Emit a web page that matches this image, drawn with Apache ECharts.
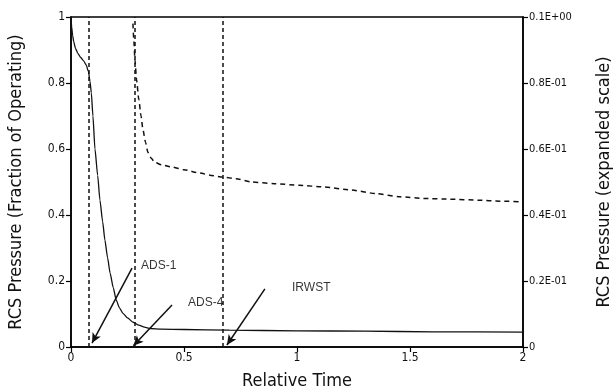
<!DOCTYPE html>
<html><head><meta charset="utf-8">
<script src="https://cdn.jsdelivr.net/npm/echarts@6/dist/echarts.min.js"></script>
<style>html,body{margin:0;padding:0;background:#fff}#c{width:614px;height:392px}</style>
</head><body><div id="c"></div>
<script>
// Solid curve: RCS pressure (fraction of operating), left axis
var solidT = [0, 0.003, 0.007, 0.012, 0.02, 0.03, 0.042, 0.055, 0.067, 0.077, 0.084, 0.09, 0.097, 0.106, 0.118, 0.128, 0.14, 0.15, 0.162, 0.173, 0.187, 0.2, 0.215, 0.23, 0.25, 0.275, 0.3, 0.325, 0.35, 0.4, 0.5, 0.7, 1.0, 1.3, 1.6, 2.0];
var solidV = [1, 0.97, 0.945, 0.925, 0.905, 0.89, 0.878, 0.868, 0.855, 0.835, 0.805, 0.77, 0.7, 0.6, 0.52, 0.445, 0.38, 0.324, 0.27, 0.224, 0.18, 0.142, 0.118, 0.102, 0.088, 0.075, 0.066, 0.06, 0.056, 0.054, 0.053, 0.051, 0.049, 0.048, 0.046, 0.045];
// Dashed curve: RCS pressure (expanded scale), right axis
var dashT = [0.274, 0.278, 0.283, 0.29, 0.30, 0.31, 0.318, 0.33, 0.34, 0.355, 0.37, 0.4, 0.45, 0.5, 0.57, 0.62, 0.67, 0.73, 0.8, 0.9, 1.01, 1.12, 1.235, 1.35, 1.456, 1.57, 1.677, 1.8, 1.9, 2.0];
var dashV = [0.098, 0.093, 0.087, 0.081, 0.075, 0.070, 0.066, 0.062, 0.059, 0.0572, 0.056, 0.0552, 0.0545, 0.0537, 0.0527, 0.052, 0.0515, 0.051, 0.050, 0.0495, 0.049, 0.0485, 0.0476, 0.0465, 0.0455, 0.045, 0.0448, 0.0445, 0.0442, 0.044];
// Event times (vertical dashed lines)
var eventTimes = [0.08, 0.276, 0.673];
// Annotations
var annNames = ['ADS-1', 'ADS-4', 'IRWST'];
var annLabelT = [0.31, 0.518, 0.978];
var annLabelV = [0.246, 0.134, 0.18];
var arrowFromT = [0.27, 0.447, 0.858];
var arrowFromV = [0.239, 0.127, 0.176];
var arrowToT = [0.093, 0.276, 0.69];
var arrowToV = [0.012, 0.004, 0.006];
// Tick labels
var xTicks = ['0', '0.5', '1', '1.5', '2'];
var yLeftTicks = ['0', '0.2', '0.4', '0.6', '0.8', '1'];
var yRightTicks = ['0', '0.2E-01', '0.4E-01', '0.6E-01', '0.8E-01', '0.1E+00'];

var FONT = '"DejaVu Sans Condensed", "Liberation Sans Narrow", sans-serif';
var solid = solidT.map(function (t, i) { return [t, solidV[i]]; });
var dashed = dashT.map(function (t, i) { return [t, dashV[i]]; });
var labels = annNames.map(function (n, i) { return [annLabelT[i], annLabelV[i], n]; });
var arrows = annNames.map(function (n, i) {
  return [{ coord: [arrowFromT[i], arrowFromV[i]] }, { coord: [arrowToT[i], arrowToV[i]] }];
});
var axisLine = { show: true, lineStyle: { color: '#000', width: 1.5 } };
var axisTick = { show: true, inside: false, length: 5, lineStyle: { color: '#000', width: 1.2 } };

var chart = echarts.init(document.getElementById('c'), null, { renderer: 'canvas' });
chart.setOption({
  backgroundColor: '#fff',
  animation: false,
  grid: { left: 71, right: 91, top: 17, bottom: 45, containLabel: false, outerBoundsMode: 'none',
    show: true, borderColor: '#000', borderWidth: 1.5, backgroundColor: 'transparent' },
  xAxis: {
    type: 'value', min: 0, max: 2, interval: 0.5,
    name: 'Relative Time', nameLocation: 'middle', nameGap: 25,
    nameTextStyle: { fontFamily: FONT, fontSize: 18, color: '#111' },
    axisLine: axisLine, axisTick: axisTick, splitLine: { show: false },
    axisLabel: { margin: 5, fontFamily: FONT, fontSize: 12, color: '#111',
      formatter: function (v) { return xTicks[Math.round(v / 0.5)]; } }
  },
  yAxis: [{
    type: 'value', min: 0, max: 1, interval: 0.2, position: 'left',
    name: 'RCS Pressure (Fraction of Operating)', nameLocation: 'middle', nameGap: 46,
    nameTextStyle: { fontFamily: FONT, fontSize: 18, color: '#111' },
    axisLine: axisLine, axisTick: axisTick, splitLine: { show: false },
    axisLabel: { margin: 6, fontFamily: FONT, fontSize: 12, color: '#111',
      formatter: function (v) { return yLeftTicks[Math.round(v / 0.2)]; } }
  }, {
    type: 'value', min: 0, max: 0.1, interval: 0.02, position: 'right',
    name: 'RCS Pressure (expanded scale)', nameLocation: 'middle', nameGap: 72,
    nameTextStyle: { fontFamily: FONT, fontSize: 18, color: '#111' },
    axisLine: axisLine, axisTick: axisTick, splitLine: { show: false },
    axisLabel: { margin: 6, fontFamily: FONT, fontSize: 11, color: '#111',
      formatter: function (v) { return yRightTicks[Math.round(v / 0.02)]; } }
  }],
  series: [{
    type: 'line', yAxisIndex: 0, data: solid, showSymbol: false, smooth: 0.2, smoothMonotone: 'x',
    lineStyle: { color: '#111', width: 1.3 },
    markLine: {
      silent: true, symbol: ['none', 'none'], label: { show: false },
      lineStyle: { color: '#111', width: 1.5, type: [4, 3] },
      data: eventTimes.map(function (t) { return { xAxis: t }; })
    }
  }, {
    type: 'line', yAxisIndex: 1, data: dashed, showSymbol: false, smooth: 0.2, smoothMonotone: 'x',
    lineStyle: { color: '#111', width: 1.5, type: [5, 4] }
  }, {
    type: 'scatter', yAxisIndex: 0, data: labels, symbolSize: 0,
    label: { show: true, position: 'right', distance: 0, fontFamily: '"Liberation Sans", Arial, sans-serif', fontSize: 12,
      color: '#000', formatter: function (p) { return p.value[2]; } },
    markLine: {
      silent: true, symbol: ['none', 'arrow'], symbolSize: [7, 10], label: { show: false },
      lineStyle: { color: '#111', width: 1.5, type: 'solid' },
      data: arrows
    }
  }]
});
</script></body></html>
